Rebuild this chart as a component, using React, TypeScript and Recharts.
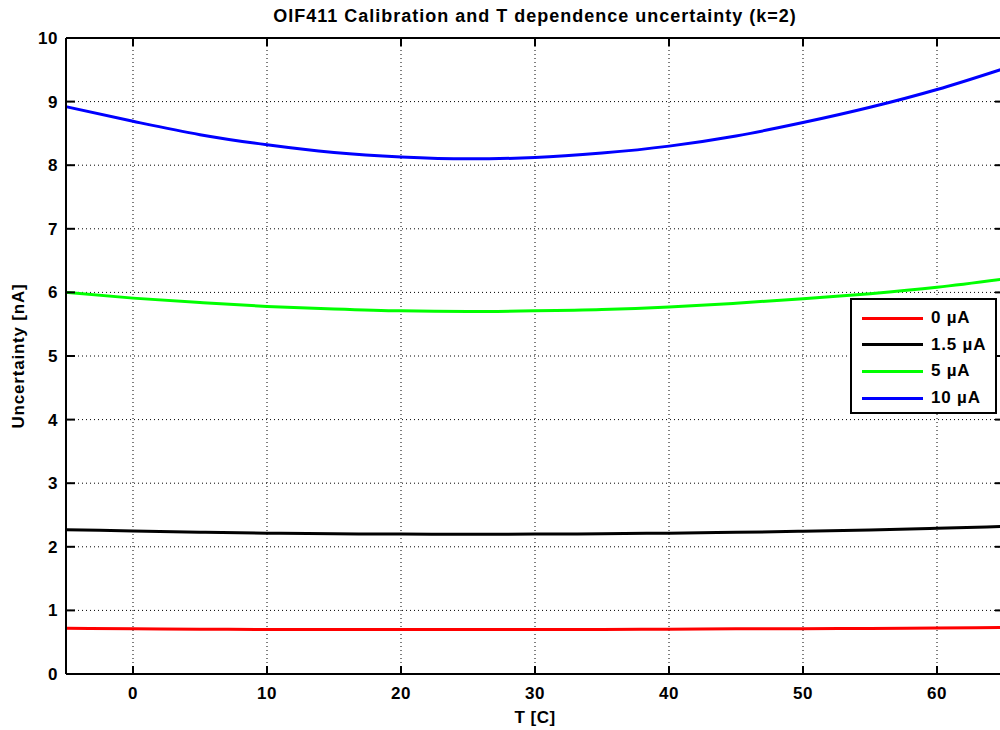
import * as React from "react";
import {
  LineChart,
  Line,
  XAxis,
  YAxis,
  CartesianGrid,
  ReferenceLine,
  Label,
} from "recharts";

// temperature points [C]
const temps = [-5, 0, 5, 10, 15, 20, 25, 30, 35, 40, 45, 50, 55, 60, 65];

// uncertainty [nA] for each current
const u0 = [0.72, 0.71, 0.705, 0.7, 0.7, 0.7, 0.7, 0.7, 0.7, 0.705, 0.71, 0.712, 0.717, 0.722, 0.73];
const u15 = [2.27, 2.25, 2.23, 2.215, 2.205, 2.2, 2.198, 2.2, 2.205, 2.215, 2.228, 2.244, 2.264, 2.29, 2.32];
const u5 = [6.0, 5.91, 5.84, 5.78, 5.74, 5.71, 5.7, 5.71, 5.73, 5.77, 5.83, 5.9, 5.98, 6.08, 6.21];
const u10 = [8.92, 8.69, 8.48, 8.32, 8.2, 8.13, 8.1, 8.12, 8.19, 8.3, 8.46, 8.67, 8.91, 9.19, 9.52];

const xTicks = [0, 10, 20, 30, 40, 50, 60];
const yTicks = [0, 1, 2, 3, 4, 5, 6, 7, 8, 9, 10];

const series = [
  { key: "u0", name: "0 \u00b5A", color: "#ff0000", values: u0 },
  { key: "u15", name: "1.5 \u00b5A", color: "#000000", values: u15 },
  { key: "u5", name: "5 \u00b5A", color: "#00ff00", values: u5 },
  { key: "u10", name: "10 \u00b5A", color: "#0000ff", values: u10 },
];

const data = temps.map((t, i) => {
  const row: Record<string, number> = { t };
  series.forEach((s) => (row[s.key] = s.values[i]));
  return row;
});

const FONT = "'Liberation Sans', Arial, Helvetica, sans-serif";
const W = 1006;
const H = 730;
const M = { top: 38, right: 2, bottom: 0, left: 0 };
const Y_W = 66;
const X_H = 56;
const PLOT_W = W - M.left - M.right - Y_W;
const PLOT_H = H - M.top - M.bottom - X_H;

function XTick(props: any) {
  const { x, y, payload } = props;
  return (
    <g>
      <line x1={x} y1={y} x2={x} y2={y - 8} stroke="#000" strokeWidth={2} />
      <line x1={x} y1={y - PLOT_H} x2={x} y2={y - PLOT_H + 8} stroke="#000" strokeWidth={2} />
      <text x={x} y={y + 25} textAnchor="middle" fontFamily={FONT} fontWeight="bold" fontSize={17} letterSpacing={0.5} fill="#000">
        {payload.value}
      </text>
    </g>
  );
}

function YTick(props: any) {
  const { x, y, payload } = props;
  return (
    <g>
      <line x1={x} y1={y} x2={x + 9} y2={y} stroke="#000" strokeWidth={2} />
      <line x1={x + PLOT_W} y1={y} x2={x + PLOT_W - 9} y2={y} stroke="#000" strokeWidth={2} />
      <text x={x - 8} y={y + 6} textAnchor="end" fontFamily={FONT} fontWeight="bold" fontSize={17} letterSpacing={0.5} fill="#000">
        {payload.value}
      </text>
    </g>
  );
}

function LegendBox() {
  return (
    <div
      style={{
        position: "absolute",
        left: 850,
        top: 298,
        width: 147,
        height: 116,
        border: "2px solid #000",
        background: "#fff",
        fontFamily: FONT,
        fontWeight: "bold",
        fontSize: 17,
        letterSpacing: 0.8,
        paddingTop: 5,
        boxSizing: "border-box",
      }}
    >
      {series.map((s) => (
        <div key={s.key} style={{ display: "flex", alignItems: "center", height: 26.6 }}>
          <div style={{ marginLeft: 10, width: 61, height: 3, background: s.color }} />
          <span style={{ marginLeft: 8 }}>{s.name}</span>
        </div>
      ))}
    </div>
  );
}

export default function App() {
  return (
    <div
      style={{
        position: "absolute",
        left: 0,
        top: 0,
        width: 1000,
        height: 730,
        overflow: "hidden",
        background: "#fff",
      }}
    >
      <div
        style={{
          position: "absolute",
          left: Y_W,
          top: 6,
          width: PLOT_W,
          textAlign: "center",
          fontFamily: FONT,
          fontWeight: "bold",
          fontSize: 18,
          letterSpacing: 1,
          lineHeight: "20px",
          color: "#000",
        }}
      >
        OIF411 Calibration and T dependence uncertainty (k=2)
      </div>
      <LineChart width={W} height={H} data={data} margin={M}>
        <CartesianGrid stroke="#000" strokeDasharray="1 3" strokeWidth={1} />
        <XAxis
          dataKey="t"
          type="number"
          domain={[-5, 65]}
          ticks={xTicks}
          height={X_H}
          tickSize={0}
          tickMargin={0}
          tickLine={false}
          tick={XTick}
          axisLine={{ stroke: "#000", strokeWidth: 2 }}
          allowDataOverflow
        >
          <Label
            value="T [C]"
            position="insideBottom"
            offset={7}
            style={{ fontFamily: FONT, fontWeight: "bold", fontSize: 17, letterSpacing: 0.5, fill: "#000" }}
          />
        </XAxis>
        <YAxis
          type="number"
          domain={[0, 10]}
          ticks={yTicks}
          width={Y_W}
          tickSize={0}
          tickMargin={0}
          tickLine={false}
          tick={YTick}
          axisLine={{ stroke: "#000", strokeWidth: 2 }}
          allowDataOverflow
        >
          <Label
            value="Uncertainty [nA]"
            angle={-90}
            position="center"
            dx={-15}
            style={{ fontFamily: FONT, fontWeight: "bold", fontSize: 17, letterSpacing: 0.8, fill: "#000", textAnchor: "middle" }}
          />
        </YAxis>
        <ReferenceLine y={10} stroke="#000" strokeWidth={2} />
        {series.map((s) => (
          <Line
            key={s.key}
            dataKey={s.key}
            name={s.name}
            type="monotone"
            stroke={s.color}
            strokeWidth={3}
            dot={false}
            isAnimationActive={false}
          />
        ))}
      </LineChart>
      <LegendBox />
    </div>
  );
}
